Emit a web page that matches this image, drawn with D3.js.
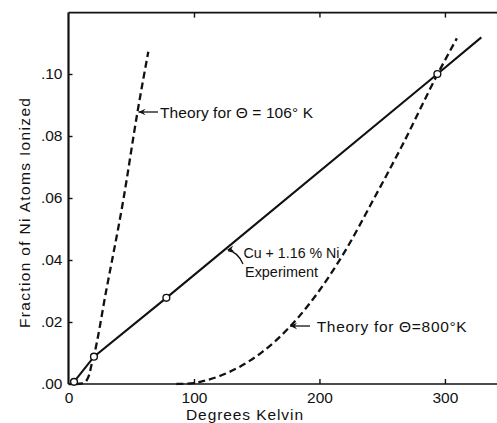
<!DOCTYPE html>
<html>
<head>
<meta charset="utf-8">
<script src="https://cdn.jsdelivr.net/npm/d3@7"></script>
<style>
  html, body { margin: 0; padding: 0; background: #fff; }
  svg { display: block; }
  text { font-family: "Liberation Sans", Arial, sans-serif; fill: #111; }
</style>
</head>
<body>
<svg id="chart" width="497" height="423"></svg>
<script>
// ---- data ----
const xTicks = [0, 100, 200, 300];
const xTickLabels = ["0", "100", "200", "300"];
const yTicks = [0, 0.02, 0.04, 0.06, 0.08, 0.10];
const yTickLabels = [".00", ".02", ".04", ".06", ".08", ".10"];

// Cu + 1.16% Ni experiment (measured points, circles)
const expK = [4.4, 20.3, 78, 294];
const expFrac = [0.0007, 0.0088, 0.0278, 0.100];
// experiment line (through points, extended)
const expLineK = [4.4, 20.3, 78, 294, 329];
const expLineFrac = [0.0007, 0.0088, 0.0278, 0.100, 0.1118];

// Theory for Θ = 106° K
const th106K = [6, 11, 14.5, 16.5, 18.5, 20.3, 30, 43.7, 55, 63.6];
const th106Frac = [0, 0.0002, 0.0012, 0.003, 0.0065, 0.0092, 0.030, 0.0594, 0.0878, 0.1072];

// Theory for Θ = 800° K
const th800K = [86, 100, 105, 120, 136.6, 155, 176.5, 205.7, 220.9, 242.9, 265.5, 294.2, 309.5];
const th800Frac = [0, 0.0003, 0.0007, 0.0025, 0.0056, 0.0105, 0.0185, 0.0335, 0.0432, 0.0594, 0.0766, 0.100, 0.1115];

// ---- drawing ----
const svg = d3.select("#chart");
const x = d3.scaleLinear().domain([0, 341.5]).range([68.5, 497]);
const y = d3.scaleLinear().domain([0, 0.12]).range([384, 12]);

const zip = (a, b) => a.map((v, i) => [v, b[i]]);

// frame: top line and axes
const g = svg.append("g");
g.append("line").attr("x1", x(0)).attr("x2", 497).attr("y1", y(0.1198)).attr("y2", y(0.1198))
  .attr("stroke", "#111").attr("stroke-width", 1.6);

// bottom axis (ticks inward)
const xAxis = d3.axisBottom(x).tickValues(xTicks).tickSize(-5).tickPadding(8)
  .tickFormat((d, i) => xTickLabels[i]);
const gx = g.append("g").attr("transform", `translate(0,${y(0)})`).call(xAxis);
gx.select(".domain").attr("d", `M${x(0)},0H497`).attr("stroke", "#111").attr("stroke-width", 1.6);
gx.selectAll(".tick line").attr("stroke", "#111").attr("stroke-width", 1.4);
gx.selectAll(".tick").filter(d => d === 0).select("line").remove();
gx.selectAll(".tick text").style("font-size", "15.5px").attr("fill", "#111")
  .style("font-family", "Liberation Sans, Arial, sans-serif");

// top ticks (inward, no labels)
const xTop = d3.axisTop(x).tickValues(xTicks.filter(d => d > 0)).tickSize(-5).tickFormat("");
const gt = g.append("g").attr("transform", `translate(0,${y(0.1198)})`).call(xTop);
gt.select(".domain").remove();
gt.selectAll(".tick line").attr("stroke", "#111").attr("stroke-width", 1.4);

// left axis (ticks inward)
const yAxis = d3.axisLeft(y).tickValues(yTicks).tickSize(-4).tickPadding(6)
  .tickFormat((d, i) => yTickLabels[i]);
const gy = g.append("g").attr("transform", `translate(${x(0)},0)`).call(yAxis);
gy.select(".domain").attr("d", `M0,${y(0)}V${y(0.1198)}`).attr("stroke", "#111").attr("stroke-width", 2.2);
gy.selectAll(".tick line").attr("stroke", "#111").attr("stroke-width", 1.4);
gy.selectAll(".tick text").style("font-size", "15.5px").attr("fill", "#111")
  .style("font-family", "Liberation Sans, Arial, sans-serif");

// axis titles
svg.append("text").attr("x", 186).attr("y", 420).attr("textLength", 117)
  .attr("lengthAdjust", "spacing").style("font-size", "15.5px").text("Degrees  Kelvin");
svg.append("text").attr("transform", "translate(30,328) rotate(-90)")
  .attr("textLength", 230).attr("lengthAdjust", "spacing")
  .style("font-size", "15.5px").text("Fraction  of  Ni  Atoms  Ionized");

// curves
const line = d3.line().x(d => x(d[0])).y(d => y(d[1]));
const smooth = d3.line().x(d => x(d[0])).y(d => y(d[1])).curve(d3.curveMonotoneX);

svg.append("path").datum(zip(th106K, th106Frac)).attr("d", smooth)
  .attr("fill", "none").attr("stroke", "#111").attr("stroke-width", 2.3)
  .attr("stroke-dasharray", "7,4");
svg.append("path").datum(zip(th800K, th800Frac)).attr("d", smooth)
  .attr("fill", "none").attr("stroke", "#111").attr("stroke-width", 2.3)
  .attr("stroke-dasharray", "7,4");
svg.append("path").datum(zip(expLineK, expLineFrac)).attr("d", line)
  .attr("fill", "none").attr("stroke", "#111").attr("stroke-width", 2.1);

svg.selectAll("circle.pt").data(zip(expK, expFrac)).enter().append("circle")
  .attr("class", "pt").attr("cx", d => x(d[0])).attr("cy", d => y(d[1])).attr("r", 3.4)
  .attr("fill", "#fff").attr("stroke", "#111").attr("stroke-width", 1.4);

// annotations
function arrowHead(tipX, tipY, angleDeg) {
  const a = angleDeg * Math.PI / 180, L = 7, w = 3.2;
  const bx = tipX + L * Math.cos(a), by = tipY + L * Math.sin(a);
  const px = -Math.sin(a) * w, py = Math.cos(a) * w;
  svg.append("path")
    .attr("d", `M${tipX},${tipY}L${bx + px},${by + py}L${bx - 0.35 * L * Math.cos(a)},${by - 0.35 * L * Math.sin(a)}L${bx - px},${by - py}Z`)
    .attr("fill", "#111");
}
const ann = svg.append("g").attr("stroke", "#111").attr("stroke-width", 1.3).attr("fill", "none");

// Theory 106
ann.append("line").attr("x1", 138.5).attr("y1", 112).attr("x2", 158).attr("y2", 112);
arrowHead(138.5, 112, 0);
svg.append("text").attr("x", 160).attr("y", 118).attr("textLength", 153)
  .attr("lengthAdjust", "spacing").style("font-size", "15.5px").text("Theory for \u0398 = 106\u00B0 K");

// Experiment
ann.append("path").attr("d", "M243,264 Q238,252 228,250.5");
arrowHead(227, 250, -12);
svg.append("text").attr("x", 243.5).attr("y", 257.5).attr("textLength", 96)
  .attr("lengthAdjust", "spacingAndGlyphs").style("font-size", "15.5px").text("Cu + 1.16 % Ni");
svg.append("text").attr("x", 245).attr("y", 277).attr("textLength", 73)
  .attr("lengthAdjust", "spacingAndGlyphs").style("font-size", "15.5px").text("Experiment");

// Theory 800
ann.append("line").attr("x1", 290).attr("y1", 326).attr("x2", 310).attr("y2", 326);
arrowHead(290, 326, 0);
svg.append("text").attr("x", 316.7).attr("y", 331.5).attr("textLength", 150)
  .attr("lengthAdjust", "spacing").style("font-size", "15.5px").text("Theory for \u0398=800\u00B0K");
</script>
</body>
</html>
